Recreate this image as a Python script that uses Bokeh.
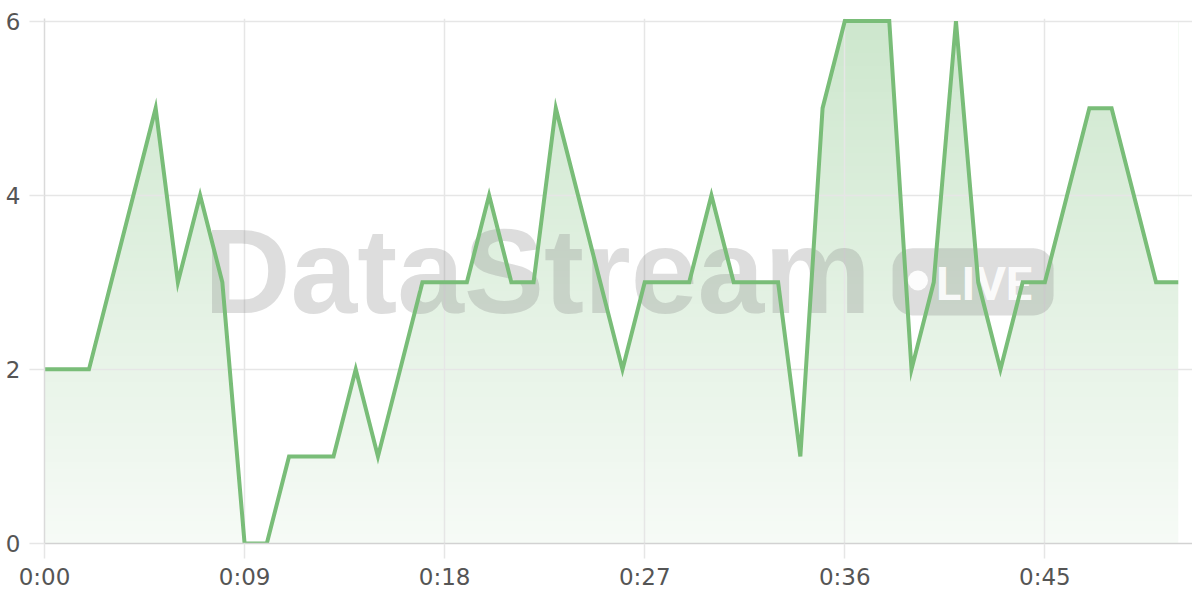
import numpy as np
from bokeh.plotting import figure
from bokeh.models import Range1d, FixedTicker, Label, BoxAnnotation
from bokeh.embed import file_html
from bokeh.resources import INLINE

# ---- data ----
seconds = list(range(52))
values = [2, 2, 2, 3, 4, 5, 3, 4, 3, 0,
          0, 1, 1, 1, 2, 1, 2, 3, 3, 3,
          4, 3, 3, 5, 4, 3, 2, 3, 3, 3,
          4, 3, 3, 3, 1, 5, 6, 6, 6, 2,
          3, 6, 3, 2, 3, 3, 4, 5, 5, 4,
          3, 3]
x_tick_values = [0, 9, 18, 27, 36, 45]
x_tick_labels = ["0:00", "0:09", "0:18", "0:27", "0:36", "0:45"]
y_tick_values = [0, 2, 4, 6]
y_tick_labels = ["0", "2", "4", "6"]

LINE = "#79bd78"
GRID = "#e6e6e6"
LABEL = "#555555"
FONT = "DejaVu Sans"

p = figure(width=1192, height=592,
           x_range=Range1d(seconds[0], seconds[-1] + 0.64),
           y_range=Range1d(0, max(values) + 0.03),
           output_backend="svg", toolbar_location=None,
           min_border_left=44, min_border_right=0,
           min_border_top=18, min_border_bottom=49,
           outline_line_color=None,
           background_fill_color="white", border_fill_color="white")

# ---- vertical gradient fill under the curve ----
rows = 240
grad = np.empty((rows, 1), dtype=np.uint32)
view = grad.view(dtype=np.uint8).reshape((rows, 1, 4))
alpha = np.linspace(0.07, 0.38, rows)
view[:, 0, 0] = 123
view[:, 0, 1] = 191
view[:, 0, 2] = 123
view[:, 0, 3] = (alpha * 255).astype(np.uint8)
p.image_rgba(image=[grad], x=seconds[0], y=0,
             dw=seconds[-1] - seconds[0], dh=max(values), level="image")
# white mask above the curve
p.varea(x=seconds, y1=values, y2=p.y_range.end + 1,
        fill_color="white", fill_alpha=1.0, level="image")

# ---- axes / grid ----
xt = FixedTicker(ticks=x_tick_values)
yt = FixedTicker(ticks=y_tick_values)
p.xaxis.ticker = xt
p.yaxis.ticker = yt
p.xgrid.ticker = xt
p.ygrid.ticker = yt
p.xaxis.major_label_overrides = {v: s for v, s in zip(x_tick_values, x_tick_labels)}
p.yaxis.major_label_overrides = {v: s for v, s in zip(y_tick_values, y_tick_labels)}

for g in (p.xgrid, p.ygrid):
    g.grid_line_color = GRID
    g.grid_line_width = 1.5

for ax in (p.xaxis, p.yaxis):
    ax.major_tick_in = 0
    ax.major_tick_out = 15
    ax.major_tick_line_color = GRID
    ax.major_tick_line_width = 1.5
    ax.minor_tick_line_color = None
    ax.major_label_text_font = FONT
    ax.major_label_text_font_size = "23px"
    ax.major_label_text_color = LABEL
    ax.axis_line_width = 1.5

p.xaxis.axis_line_color = "#d2d2d2"
p.yaxis.axis_line_color = "#dadada"
p.xaxis.major_label_standoff = 5
p.yaxis.major_label_standoff = 9

# ---- watermark ----
wm = "#808080"
wm_alpha = 0.27
p.add_layout(Label(x=7.17, y=3.125, text="DataStream",
                   text_font="Liberation Sans", text_font_style="bold",
                   text_font_size="120px", text_color=wm, text_alpha=wm_alpha,
                   text_align="left", text_baseline="alphabetic",
                   level="underlay"))
p.add_layout(BoxAnnotation(left=38.15, right=45.39, bottom=2.62, top=3.39,
                           fill_color=wm, fill_alpha=wm_alpha,
                           line_color=None, border_radius=20, level="underlay"))
p.add_layout(BoxAnnotation(left=38.84, right=39.74, bottom=2.906, top=3.136,
                           fill_color="white", fill_alpha=0.9,
                           line_color=None, border_radius=10, level="underlay"))
p.add_layout(Label(x=40.1, y=2.99, text="LIVE",
                   text_font="Roboto", text_font_style="bold",
                   text_font_size="47px", text_color="white", text_alpha=0.9,
                   text_align="left", text_baseline="alphabetic",
                   level="underlay"))

# ---- the line ----
p.line(seconds, values, line_color=LINE, line_width=4, line_join="miter")

open("out.html", "w").write(file_html(p, INLINE))
